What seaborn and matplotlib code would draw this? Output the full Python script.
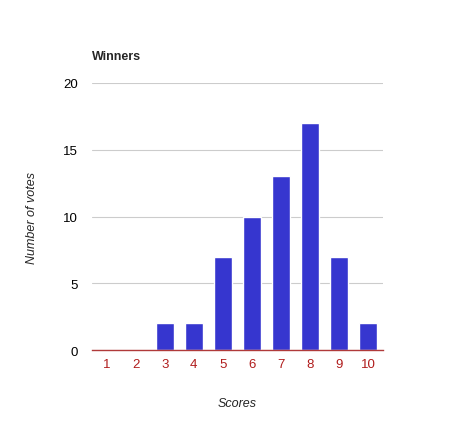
import matplotlib
matplotlib.use("Agg")
import matplotlib.pyplot as plt
import seaborn as sns
import pandas as pd

sns.set_style("white")
plt.rcParams['font.family'] = ['Liberation Sans', 'DejaVu Sans']

# Datos
scores = ["1", "2", "3", "4", "5", "6", "7", "8", "9", "10"]
votes = [0, 0, 2, 2, 7, 10, 13, 17, 7, 2]
y_ticks = [0, 5, 10, 15, 20]

df = pd.DataFrame({"score": scores, "votes": votes})

fig = plt.figure(figsize=(4.73, 4.35), dpi=100)
ax = fig.add_axes([0.1945, 0.1931, 0.6152, 0.6138])

sns.barplot(data=df, x="score", y="votes", order=scores, color="#3636cf",
            saturation=1, width=0.62, ax=ax)

ax.set_ylim(0, 20)
ax.set_xlim(-0.5, len(scores) - 0.5)
ax.set_yticks(y_ticks)
ax.yaxis.grid(True, color="#cccccc", linewidth=0.8)
ax.set_axisbelow(True)
for s in ["top", "right", "left"]:
    ax.spines[s].set_visible(False)
ax.spines["bottom"].set_color("#b03a3a")
ax.spines["bottom"].set_linewidth(1)
ax.tick_params(axis="both", length=0, labelsize=9.5)
ax.tick_params(axis="x", colors="#b01c1c", pad=6)
ax.tick_params(axis="y", pad=10)
for lab in ax.get_yticklabels():
    lab.set_color("black")

ax.set_xlabel("Scores", fontstyle="italic", fontsize=9, labelpad=19)
ax.set_ylabel("Number of votes", fontstyle="italic", fontsize=9, labelpad=18)
fig.text(92 / 473, 1 - 57 / 435, "Winners", fontweight="bold", fontsize=9,
         ha="left", va="center")

plt.savefig("out.png", dpi=100)
